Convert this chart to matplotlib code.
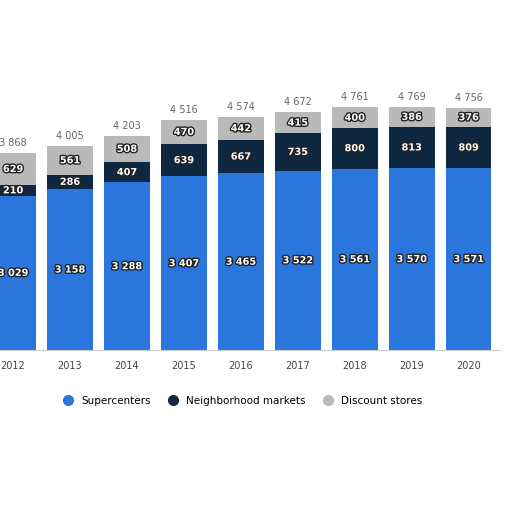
import matplotlib.pyplot as plt
import matplotlib.patheffects as pe
import numpy as np

years = ["2012", "2013", "2014", "2015", "2016", "2017", "2018", "2019", "2020"]
supercenters = [3029, 3158, 3288, 3407, 3465, 3522, 3561, 3570, 3571]
neighborhood = [210, 286, 407, 639, 667, 735, 800, 813, 809]
discount = [629, 561, 508, 470, 442, 415, 400, 386, 376]

c_super = "#2a76dc"
c_neigh = "#0e2841"
c_disc = "#b9b9b9"

fig = plt.figure(figsize=(5.12, 5.12), dpi=100)
ax = fig.add_axes([0.0, 1 - 350 / 512, 500 / 512, 270 / 512])

x = np.arange(len(years))
sup = np.array(supercenters)
nei = np.array(neighborhood)
dis = np.array(discount)
w = 0.8
ax.bar(x, sup, w, color=c_super)
ax.bar(x, nei, w, bottom=sup, color=c_neigh)
ax.bar(x, dis, w, bottom=sup + nei, color=c_disc)

stroke = [pe.withStroke(linewidth=2, foreground="#222222")]
for i in x:
    ax.text(i, sup[i] / 2, f"{sup[i]:,}".replace(",", " "), ha="center", va="center",
            color="white", fontsize=7, fontweight="bold", path_effects=stroke)
    ax.text(i, sup[i] + nei[i] / 2, str(nei[i]), ha="center", va="center",
            color="white", fontsize=7, fontweight="bold", path_effects=stroke)
    ax.text(i, sup[i] + nei[i] + dis[i] / 2, str(dis[i]), ha="center", va="center",
            color="white", fontsize=7, fontweight="bold", path_effects=stroke)
    total = sup[i] + nei[i] + dis[i]
    ax.text(i, total + 100, f"{total:,}".replace(",", " "), ha="center", va="bottom",
            color="#666666", fontsize=7)

ax.set_xlim(-0.23, 8.55)
ax.set_ylim(0, 5300)
ax.set_xticks(x)
ax.set_xticklabels(years, fontsize=7, color="#444444")
ax.set_yticks([])
ax.tick_params(axis="x", length=0, pad=8)
for s in ["top", "right", "left"]:
    ax.spines[s].set_visible(False)
ax.spines["bottom"].set_color("#cccccc")

handles = [plt.Line2D([], [], marker="o", ls="", color=c, markersize=7)
           for c in (c_super, c_neigh, c_disc)]
fig.legend(handles, ["Supercenters", "Neighborhood markets", "Discount stores"],
           loc="center", bbox_to_anchor=(240 / 512, 1 - 401 / 512), ncol=3,
           frameon=False, fontsize=7.5, handletextpad=0.2, columnspacing=1.2)

fig.savefig("out.png", dpi=100, facecolor="white")
